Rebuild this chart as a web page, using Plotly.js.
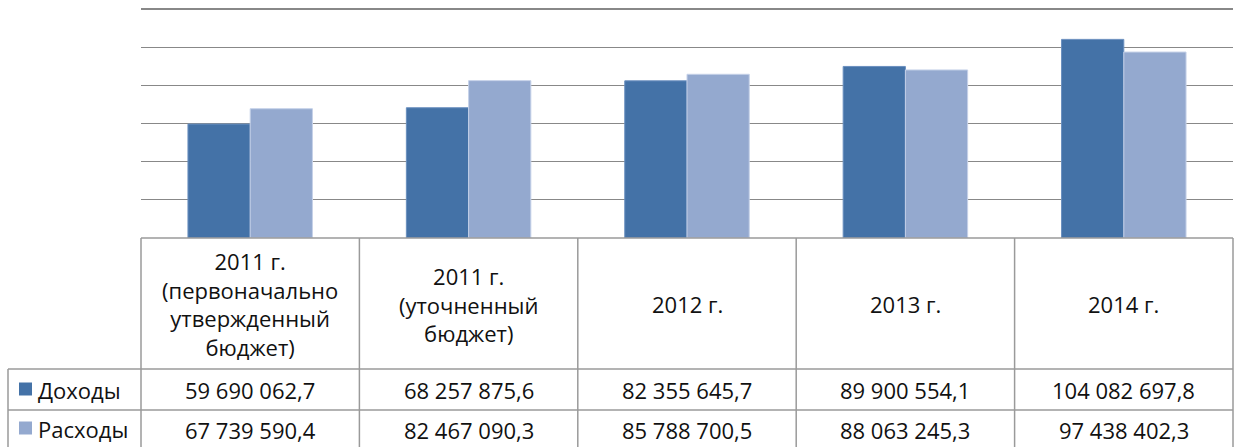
<!DOCTYPE html>
<html>
<head>
<meta charset="utf-8">
<script src="https://cdn.plot.ly/plotly-3.0.1.min.js"></script>
<style>html,body{margin:0;padding:0;background:#fff;}#chart{width:1234px;height:447px;}</style>
</head>
<body>
<div id="chart"></div>
<script>
const categories = [
  "2011 г.<br>(первоначально<br>утвержденный<br>бюджет)",
  "2011 г.<br>(уточненный<br>бюджет)",
  "2012 г.",
  "2013 г.",
  "2014 г."
];
const seriesNames = ["Доходы", "Расходы"];
const dohody = [59690062.7, 68257875.6, 82355645.7, 89900554.1, 104082697.8];
const rashody = [67739590.4, 82467090.3, 85788700.5, 88063245.3, 97438402.3];
const colors = ["#4472A7", "#94A9CF"];

const W = 1234, H = 447;
const M = {l: 141, r: 1, t: 6, b: 209};
const plotW = W - M.l - M.r, plotH = H - M.t - M.b;
const bottomPx = H - M.b;
const py = p => (bottomPx - p) / plotH;
const pxp = p => (p - M.l) / plotW;
// 120 mln gridline sits 3px below the top of the plot area (y ~ 9px)
const yMax = 120000000 * plotH / (plotH - 3);

function fmt(v) {
  const parts = v.toFixed(1).split('.');
  return parts[0].replace(/\B(?=(\d{3})+(?!\d))/g, ' ') + ',' + parts[1];
}

const xs = categories.map((c, i) => i);
const traces = [
  {type: 'bar', x: xs, y: dohody, name: seriesNames[0],
   marker: {color: colors[0], line: {color: '#6a8fbf', width: 1}}},
  {type: 'bar', x: xs, y: rashody, name: seriesNames[1],
   marker: {color: colors[1], line: {color: '#c5d1e8', width: 1}}}
];

const font = {family: 'Open Sans, Liberation Sans, sans-serif', size: 22, color: '#111'};
const lineStyle = {color: '#9a9a9a', width: 1.5};
const shapes = [];
const annotations = [];
const n = categories.length;
shapes.push({type: 'line', xref: 'paper', yref: 'paper', x0: 0, x1: 1, y0: 0, y1: 0, line: lineStyle});
[369, 410].forEach(p => shapes.push({type: 'line', xref: 'paper', yref: 'paper',
  x0: pxp(8), x1: 1, y0: py(p), y1: py(p), line: lineStyle}));
for (let i = 0; i <= n; i++) {
  shapes.push({type: 'line', xref: 'paper', yref: 'paper', x0: i / n, x1: i / n,
    y0: 0, y1: py(H + 5), line: lineStyle});
}
shapes.push({type: 'line', xref: 'paper', yref: 'paper', x0: pxp(8), x1: pxp(8),
  y0: py(369), y1: py(H + 5), line: lineStyle});

categories.forEach((c, i) => {
  annotations.push({x: i, xref: 'x', y: py(304), yref: 'paper', text: c, showarrow: false,
    xanchor: 'center', yanchor: 'middle', font: font});
  annotations.push({x: i, xref: 'x', y: py(390), yref: 'paper', text: fmt(dohody[i]), showarrow: false,
    xanchor: 'center', yanchor: 'middle', font: font});
  annotations.push({x: i, xref: 'x', y: py(430), yref: 'paper', text: fmt(rashody[i]), showarrow: false,
    xanchor: 'center', yanchor: 'middle', font: font});
});
[[389, 0], [428, 1]].forEach(([yc, k]) => {
  shapes.push({type: 'rect', xref: 'paper', yref: 'paper', x0: pxp(19), x1: pxp(32),
    y0: py(yc - 6.5), y1: py(yc + 6.5), fillcolor: colors[k], line: {width: 0}});
  annotations.push({x: pxp(36), xref: 'paper', y: py(yc + 1), yref: 'paper', text: seriesNames[k],
    showarrow: false, xanchor: 'left', yanchor: 'middle', font: font});
});

const layout = {
  width: W, height: H,
  margin: M,
  paper_bgcolor: '#fff', plot_bgcolor: '#fff',
  showlegend: false,
  barmode: 'group', bargap: 0.43, bargroupgap: 0,
  xaxis: {type: 'linear', range: [-0.5, n - 0.5], showticklabels: false, showgrid: false,
    zeroline: false, ticks: '', fixedrange: true},
  yaxis: {range: [0, yMax], tick0: 0, dtick: 20000000, showticklabels: false, showgrid: true,
    gridcolor: '#888', gridwidth: 1.2, zeroline: false, ticks: ''},
  shapes: shapes,
  annotations: annotations,
  font: font
};

Plotly.newPlot('chart', traces, layout, {staticPlot: true, displayModeBar: false});
</script>
</body>
</html>
